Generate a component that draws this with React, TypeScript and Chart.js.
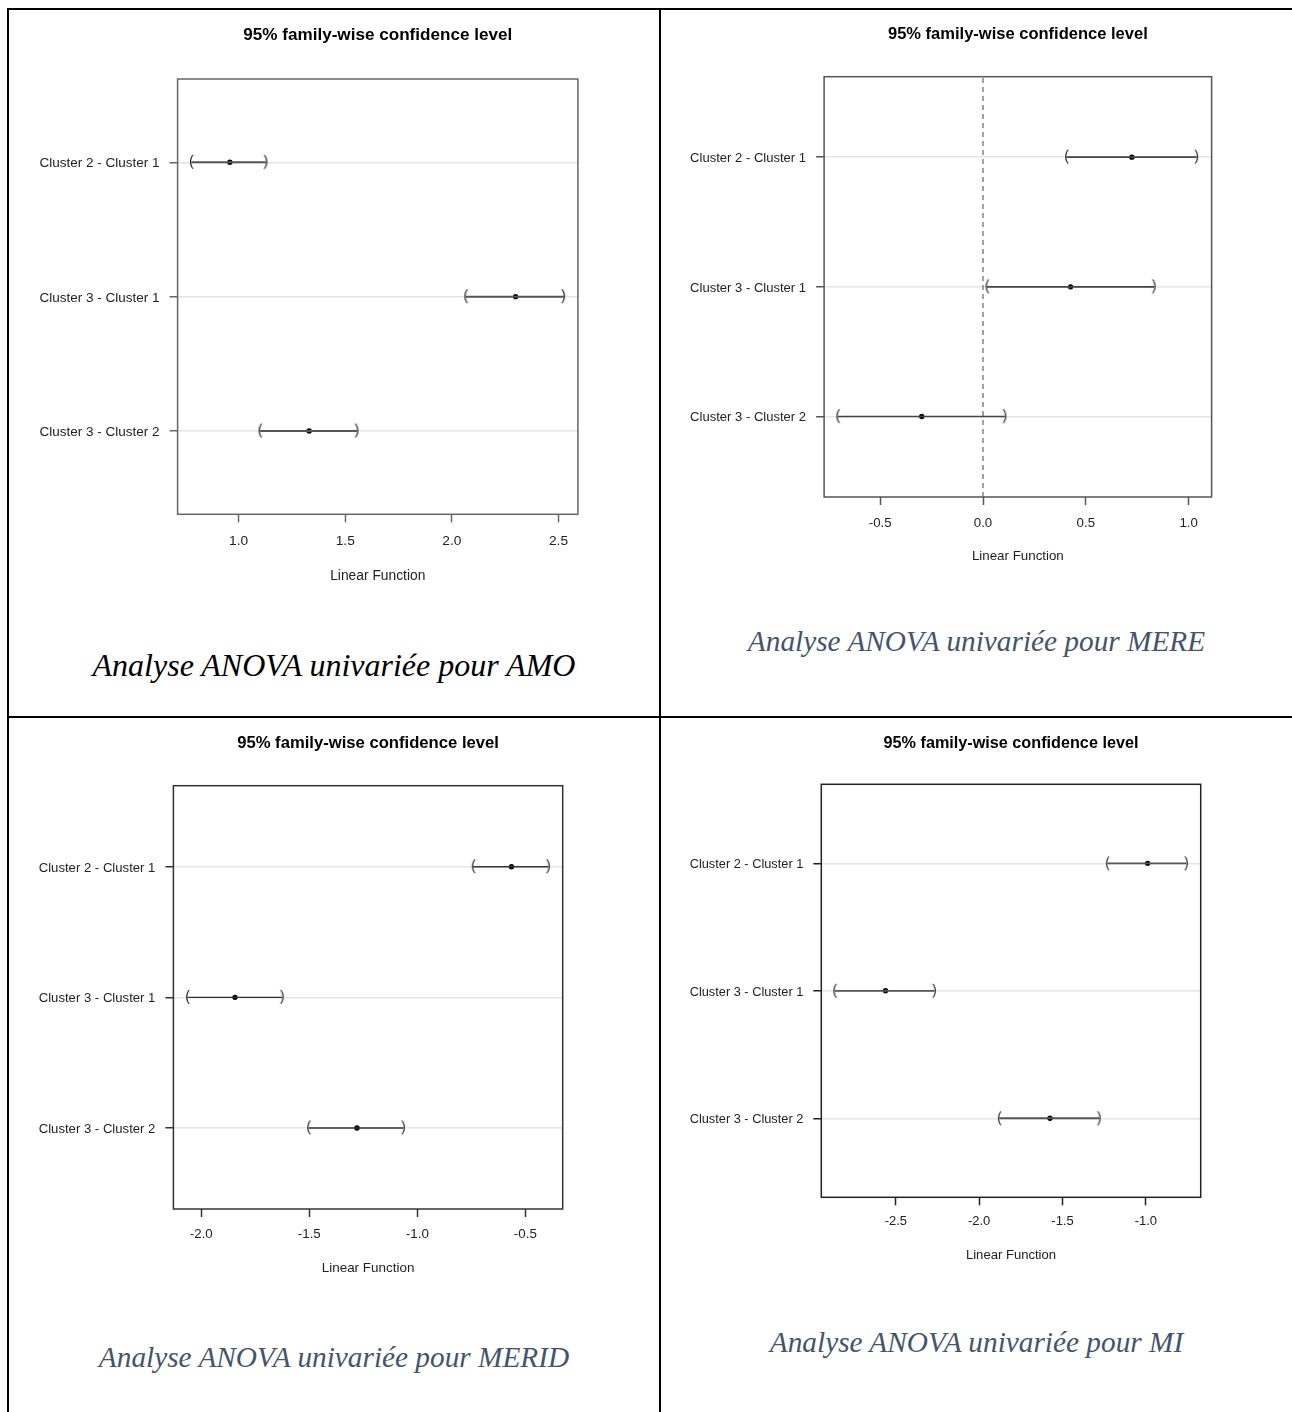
import React, { useEffect, useRef } from "react";
import { Chart, registerables } from "chart.js";

Chart.register(...registerables);

// ---------- DATA ----------
const comparisons = ["Cluster 2 - Cluster 1", "Cluster 3 - Cluster 1", "Cluster 3 - Cluster 2"];
const rowPositions = [3, 2, 1];
const yRange = [0.38, 3.62];
const referenceValue = 0;

const amoLower = [0.779, 2.066, 1.101];
const amoEstimate = [0.959, 2.299, 1.331];
const amoUpper = [1.128, 2.524, 1.555];
const amoTicks = [1.0, 1.5, 2.0, 2.5];
const amoRange = [0.714, 2.591];

const mereLower = [0.406, 0.0195, -0.706];
const mereEstimate = [0.724, 0.426, -0.298];
const mereUpper = [1.039, 0.832, 0.106];
const mereTicks = [-0.5, 0.0, 0.5, 1.0];
const mereRange = [-0.773, 1.112];

const meridLower = [-0.741, -2.064, -1.503];
const meridEstimate = [-0.564, -1.844, -1.279];
const meridUpper = [-0.394, -1.626, -1.065];
const meridTicks = [-2.0, -1.5, -1.0, -0.5];
const meridRange = [-2.129, -0.327];

const miLower = [-1.231, -2.866, -1.879];
const miEstimate = [-0.989, -2.562, -1.575];
const miUpper = [-0.757, -2.269, -1.28];
const miTicks = [-2.5, -2.0, -1.5, -1.0];
const miRange = [-2.947, -0.671];

const plotTitle = "95% family-wise confidence level";
const xAxisTitle = "Linear Function";
const captions = [
  "Analyse ANOVA univariée pour AMO",
  "Analyse ANOVA univariée pour MERE",
  "Analyse ANOVA univariée pour MERID",
  "Analyse ANOVA univariée pour MI",
];

const panelsData = [
  { lower: amoLower, estimate: amoEstimate, upper: amoUpper, ticks: amoTicks, range: amoRange },
  { lower: mereLower, estimate: mereEstimate, upper: mereUpper, ticks: mereTicks, range: mereRange },
  { lower: meridLower, estimate: meridEstimate, upper: meridUpper, ticks: meridTicks, range: meridRange },
  { lower: miLower, estimate: miEstimate, upper: miUpper, ticks: miTicks, range: miRange },
];

// ---------- LAYOUT / STYLE ----------
const SANS = '"Liberation Sans", Arial, Helvetica, sans-serif';
const SERIF = '"Liberation Serif", "Times New Roman", serif';
const TICK_LEN = 8;

const panelLayouts = [
  { cellLeft: 9, cellTop: 10, cellWidth: 650, box: { l: 177.6, r: 577.9, t: 79, b: 514.3 }, titleY: 35.5, tickY: 541.3, xTitleY: 575.8, scale: 1, boxColor: "#666", lineColor: "#555", lineWidth: 2, captionY: 665, captionSize: 32, captionColor: "#000000" },
  { cellLeft: 661, cellTop: 10, cellWidth: 631, box: { l: 824.1, r: 1211.6, t: 76.7, b: 497 }, titleY: 34.5, tickY: 523.3, xTitleY: 556.4, scale: 0.967, boxColor: "#555", lineColor: "#444", lineWidth: 1.6, captionY: 642, captionSize: 29.3, captionColor: "#44546A" },
  { cellLeft: 9, cellTop: 718, cellWidth: 650, box: { l: 173.4, r: 562.7, t: 785.7, b: 1209 }, titleY: 743.8, tickY: 1234.7, xTitleY: 1268, scale: 0.974, boxColor: "#333", lineColor: "#333", lineWidth: 1.4, captionY: 1358, captionSize: 29.3, captionColor: "#44546A" },
  { cellLeft: 661, cellTop: 718, cellWidth: 631, box: { l: 821.3, r: 1200.7, t: 784.3, b: 1197.3 }, titleY: 743.5, tickY: 1221.7, xTitleY: 1255, scale: 0.948, boxColor: "#222", lineColor: "#555", lineWidth: 1.8, captionY: 1343, captionSize: 29.3, captionColor: "#44546A" },
];

function makeGlyph(ch: string, size: number, color: string): HTMLCanvasElement {
  const c = document.createElement("canvas");
  const w = Math.ceil(size * 0.6);
  const h = Math.ceil(size * 1.3);
  c.width = w;
  c.height = h;
  const ctx = c.getContext("2d")!;
  ctx.font = `${size}px ${SANS}`;
  ctx.fillStyle = color;
  ctx.textAlign = "center";
  ctx.textBaseline = "alphabetic";
  ctx.fillText(ch, w / 2, h / 2 + 0.26 * size);
  return c;
}

const boxPlugin = {
  id: "plotBox",
  afterLayout(chart: any) {
    // centre the title over the plotting box, as R does
    const tb = chart.titleBlock;
    const a = chart.chartArea;
    if (tb && a) {
      tb.left = a.left;
      tb.right = a.right;
      tb.width = a.right - a.left;
    }
  },
  afterDatasetsDraw(chart: any, _args: any, opts: any) {
    const { ctx, chartArea: a } = chart;
    ctx.save();
    ctx.strokeStyle = opts.color;
    ctx.lineWidth = opts.width;
    ctx.strokeRect(a.left, a.top, a.right - a.left, a.bottom - a.top);
    ctx.restore();
  },
};

function Panel({ index }: { index: number }) {
  const ref = useRef<HTMLCanvasElement | null>(null);
  const L = panelLayouts[index];
  const s = L.scale;
  const xTitleSize = 13.8 * s;
  const lhX = xTitleSize * 1.2;
  const bottomEdge = L.xTitleY - L.cellTop + lhX / 2;
  const canvasH = Math.ceil(bottomEdge) + 6;

  useEffect(() => {
    const d = panelsData[index];
    const titleSize = 17.1 * s;
    const tickSize = 13.7 * s;
    const yTickSize = 13.5 * s;
    const lhT = titleSize * 1.2;
    const lhTick = tickSize * 1.2;
    const W = L.cellWidth;
    const cL = L.box.l - L.cellLeft;
    const cR = L.box.r - L.cellLeft;
    const cT = L.box.t - L.cellTop;
    const cB = L.box.b - L.cellTop;
    const pt = L.titleY - L.cellTop - lhT / 2;
    const pb = cT - pt - lhT;
    const xAxisH = bottomEdge - cB;
    const tickPad = L.tickY - L.box.b - TICK_LEN - lhTick / 2;

    const openGlyph = makeGlyph("(", 14.5 * s, "#222");
    const closeGlyph = makeGlyph(")", 14.5 * s, "#222");

    const datasets: any[] = [];
    datasets.push({
      data: [
        { x: referenceValue, y: yRange[0] },
        { x: referenceValue, y: yRange[1] },
      ],
      showLine: true,
      borderColor: "#444",
      borderWidth: 1,
      borderDash: [5, 4],
      pointRadius: 0,
    });
    rowPositions.forEach((y, i) => {
      datasets.push({
        data: [
          { x: d.lower[i], y },
          { x: d.upper[i], y },
        ],
        showLine: true,
        borderColor: L.lineColor,
        borderWidth: L.lineWidth,
        pointRadius: 0,
      });
    });
    datasets.push({
      data: rowPositions.map((y, i) => ({ x: d.lower[i], y })),
      pointStyle: openGlyph,
      pointRadius: 3,
    });
    datasets.push({
      data: rowPositions.map((y, i) => ({ x: d.upper[i], y })),
      pointStyle: closeGlyph,
      pointRadius: 3,
    });
    datasets.push({
      data: rowPositions.map((y, i) => ({ x: d.estimate[i], y })),
      pointStyle: "circle",
      pointRadius: 2.7,
      backgroundColor: "#000",
      borderColor: "#000",
      borderWidth: 0,
    });

    const chart = new Chart(ref.current!, {
      type: "scatter",
      data: { datasets },
      options: {
        animation: false,
        responsive: false,
        devicePixelRatio: 1,
        events: [],
        layout: { padding: { left: 0, right: W - cR, top: 0, bottom: canvasH - bottomEdge } },
        plugins: {
          legend: { display: false },
          tooltip: { enabled: false },
          title: {
            display: true,
            text: plotTitle,
            color: "#000",
            font: { family: SANS, size: titleSize, weight: "bold", lineHeight: 1.2 },
            padding: { top: pt, bottom: pb },
          },
          plotBox: { color: L.boxColor, width: 1.5 },
        } as any,
        scales: {
          x: {
            type: "linear",
            position: "bottom",
            min: d.range[0],
            max: d.range[1],
            afterBuildTicks: (sc: any) => {
              sc.ticks = d.ticks.map((v) => ({ value: v }));
            },
            afterFit: (sc: any) => {
              sc.height = xAxisH;
              sc.paddingLeft = 0;
              sc.paddingRight = 0;
            },
            grid: { drawOnChartArea: false, drawTicks: true, tickLength: TICK_LEN, tickColor: L.boxColor, tickWidth: 1.5 },
            border: { display: false },
            ticks: {
              autoSkip: false,
              maxRotation: 0,
              padding: tickPad,
              color: "#222",
              font: { family: SANS, size: tickSize, lineHeight: 1.2 },
              callback: (v: any) => Number(v).toFixed(1),
            },
            title: {
              display: true,
              text: xAxisTitle,
              color: "#222",
              font: { family: SANS, size: xTitleSize, lineHeight: 1.2 },
              padding: { top: 0, bottom: 0 },
            },
          },
          y: {
            type: "linear",
            position: "left",
            min: yRange[0],
            max: yRange[1],
            afterBuildTicks: (sc: any) => {
              sc.ticks = rowPositions.map((v) => ({ value: v }));
            },
            afterFit: (sc: any) => {
              sc.width = cL;
              sc.paddingTop = 0;
              sc.paddingBottom = 0;
            },
            grid: { drawOnChartArea: true, color: "#e4e4e4", lineWidth: 1.5, drawTicks: true, tickLength: TICK_LEN, tickColor: L.boxColor, tickWidth: 1.5 },
            border: { display: false },
            ticks: {
              autoSkip: false,
              padding: 10,
              labelOffset: 1.2,
              color: "#222",
              font: { family: SANS, size: yTickSize, lineHeight: 1.2 },
              callback: (v: any) => comparisons[rowPositions.indexOf(Number(v))],
            },
          },
        },
      } as any,
      plugins: [boxPlugin as any],
    });
    return () => chart.destroy();
  }, [index]);

  return (
    <canvas
      ref={ref}
      width={L.cellWidth}
      height={canvasH}
      style={{ position: "absolute", left: L.cellLeft, top: L.cellTop, width: L.cellWidth, height: canvasH }}
    />
  );
}

function Caption({ index }: { index: number }) {
  const L = panelLayouts[index];
  return (
    <div
      style={{
        position: "absolute",
        left: L.cellLeft,
        width: L.cellWidth,
        top: L.captionY - L.captionSize / 2,
        height: L.captionSize,
        lineHeight: `${L.captionSize}px`,
        fontSize: L.captionSize,
        fontFamily: SERIF,
        fontStyle: "italic",
        color: L.captionColor,
        textAlign: "center",
        whiteSpace: "nowrap",
      }}
    >
      {captions[index]}
    </div>
  );
}

const rules = [
  { left: 7, top: 8, width: 2, height: 1404 },
  { left: 7, top: 8, width: 1285, height: 2 },
  { left: 659, top: 8, width: 2, height: 1404 },
  { left: 7, top: 716, width: 1285, height: 2 },
];

export default function App() {
  return (
    <div style={{ position: "absolute", left: 0, top: 0, width: 1292, height: 1412, overflow: "hidden", background: "#fff" }}>
      {rules.map((r, i) => (
        <div key={i} style={{ position: "absolute", background: "#000", ...r }} />
      ))}
      {panelLayouts.map((_, i) => (
        <Panel key={"p" + i} index={i} />
      ))}
      {panelLayouts.map((_, i) => (
        <Caption key={"c" + i} index={i} />
      ))}
    </div>
  );
}
